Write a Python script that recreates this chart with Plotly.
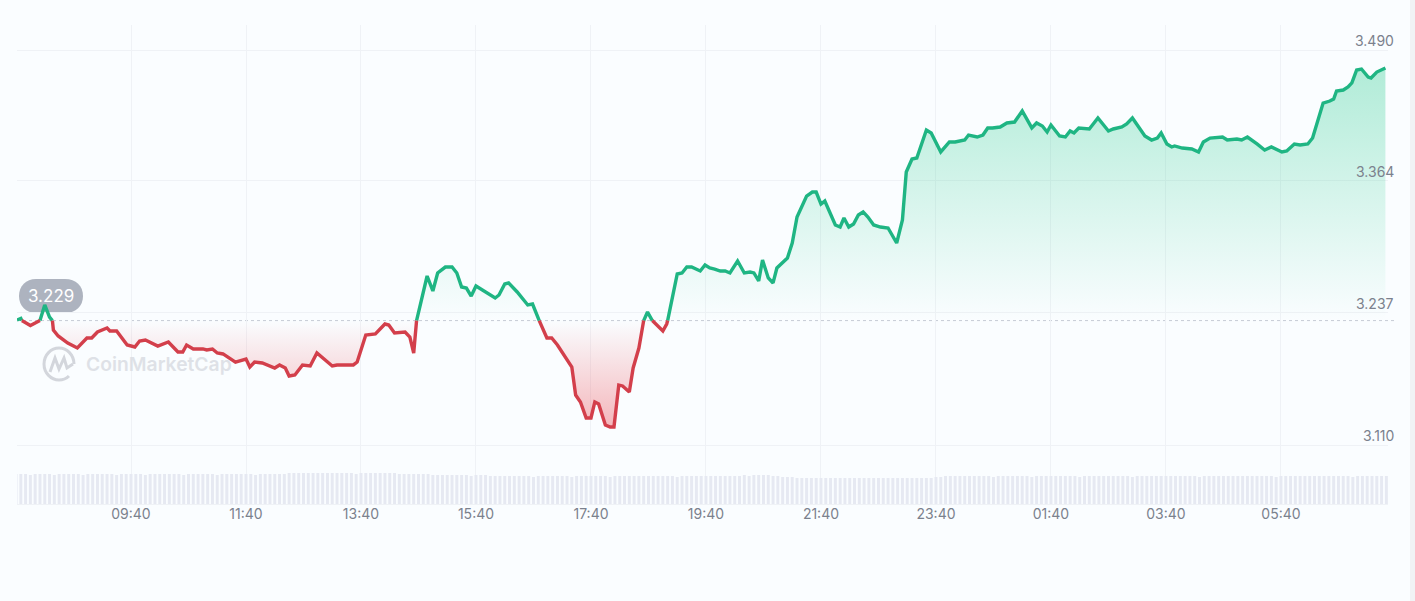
import numpy as np
import plotly.graph_objects as go

W, H = 1415, 601

# minutes elapsed since 07:40, with the price read at each one
minutes = [
    1, 5, 6, 7, 15, 23, 25, 30, 35, 38, 39, 44, 54, 64, 74, 79, 85, 95, 98, 105,
    116, 124, 129, 135, 148, 159, 169, 174, 178, 185, 195, 199, 205, 210, 216, 229, 240, 244, 249, 257,
    270, 275, 281, 285, 291, 299, 307, 314, 319, 330, 335, 352, 356, 365, 375, 385, 389, 395, 406, 411,
    415, 418, 425, 429, 435, 440, 448, 455, 460, 465, 470, 475, 480, 489, 500, 504, 510, 514, 523, 534,
    539, 546, 554, 559, 565, 580, 584, 589, 595, 600, 604, 608, 615, 620, 624, 629, 633, 640, 644, 650,
    655, 659, 664, 675, 679, 680, 690, 695, 700, 705, 714, 719, 724, 729, 735, 740, 745, 753, 760, 766,
    770, 775, 779, 785, 790, 794, 805, 810, 815, 825, 831, 835, 840, 844, 855, 860, 864, 869, 874, 879,
    884, 889, 895, 902, 910, 919, 925, 929, 935, 940, 950, 955, 965, 974, 980, 990, 994, 1003, 1009, 1014,
    1019, 1027, 1034, 1042, 1050, 1060, 1065, 1071, 1076, 1080, 1089, 1095, 1100, 1104, 1109, 1120, 1129, 1140, 1145, 1154,
    1159, 1165, 1178, 1185, 1191, 1195, 1201, 1206, 1209, 1217, 1227, 1234, 1239, 1246, 1259, 1264, 1274, 1279, 1285, 1295,
    1303, 1310, 1321, 1326, 1334, 1340, 1348, 1353, 1359, 1364, 1371, 1375, 1378, 1385, 1390, 1394, 1399, 1404, 1411, 1414,
    1420, 1429,
]
prices = [
    3.2303, 3.2317, 3.2297, 3.2293, 3.2250, 3.2293, 3.2297, 3.2447, 3.2331, 3.2297, 3.2206, 3.2149, 3.2081, 3.2033, 3.2129, 3.2129, 3.2187, 3.2226, 3.2197, 3.2197,
    3.2062, 3.2043, 3.2101, 3.2110, 3.2052, 3.2091, 3.1995, 3.1995, 3.2062, 3.2024, 3.2024, 3.2014, 3.2024, 3.1985, 3.1976, 3.1898, 3.1927, 3.1850, 3.1898, 3.1889,
    3.1841, 3.1870, 3.1841, 3.1764, 3.1774, 3.1870, 3.1860, 3.1985, 3.1947, 3.1860, 3.1870, 3.1870, 3.1898, 3.2158, 3.2168, 3.2264, 3.2254, 3.2178, 3.2187, 3.2139,
    3.1985, 3.2297, 3.2572, 3.2726, 3.2582, 3.2755, 3.2812, 3.2812, 3.2755, 3.2620, 3.2610, 3.2533, 3.2630, 3.2582, 3.2514, 3.2543, 3.2649, 3.2659, 3.2572, 3.2447,
    3.2456, 3.2297, 3.2129, 3.2129, 3.2062, 3.1850, 3.1581, 3.1514, 3.1360, 3.1360, 3.1514, 3.1495, 3.1293, 3.1273, 3.1273, 3.1677, 3.1668, 3.1610, 3.1841, 3.2033,
    3.2297, 3.2380, 3.2297, 3.2197, 3.2264, 3.2297, 3.2745, 3.2755, 3.2812, 3.2812, 3.2774, 3.2832, 3.2803, 3.2793, 3.2774, 3.2774, 3.2755, 3.2870, 3.2755, 3.2764,
    3.2755, 3.2678, 3.2880, 3.2707, 3.2659, 3.2803, 3.2899, 3.3043, 3.3293, 3.3495, 3.3534, 3.3534, 3.3418, 3.3447, 3.3217, 3.3197, 3.3284, 3.3197, 3.3226, 3.3313,
    3.3342, 3.3293, 3.3217, 3.3197, 3.3188, 3.3043, 3.3265, 3.3726, 3.3851, 3.3861, 3.4130, 3.4102, 3.3919, 3.4015, 3.4015, 3.4034, 3.4082, 3.4063, 3.4082, 3.4150,
    3.4150, 3.4159, 3.4198, 3.4207, 3.4313, 3.4150, 3.4198, 3.4169, 3.4111, 3.4178, 3.4073, 3.4063, 3.4121, 3.4102, 3.4150, 3.4140, 3.4246, 3.4121, 3.4140, 3.4159,
    3.4188, 3.4246, 3.4073, 3.4034, 3.4053, 3.4102, 3.3996, 3.3967, 3.3977, 3.3957, 3.3948, 3.3919, 3.4015, 3.4053, 3.4063, 3.4034, 3.4044, 3.4034, 3.4063, 3.3996,
    3.3938, 3.3967, 3.3919, 3.3928, 3.3996, 3.3986, 3.3996, 3.4053, 3.4227, 3.4390, 3.4409, 3.4429, 3.4506, 3.4515, 3.4544, 3.4583, 3.4708, 3.4717, 3.4640, 3.4631,
    3.4688, 3.4727,
]
base_price = 3.2297

# one volume bar every five minutes, in chart units
volumes = [
    30, 30, 30, 29, 30, 30, 30, 30, 29, 30, 30, 30, 30, 30, 29, 30, 30, 30, 30, 30,
    30, 29, 30, 30, 30, 30, 30, 29, 30, 30, 30, 30, 30, 30, 30, 29, 30, 30, 30, 30,
    30, 30, 29, 30, 30, 30, 30, 30, 30, 30, 29, 30, 30, 30, 30, 30, 30, 31, 31, 31,
    31, 31, 31, 31, 31, 31, 31, 31, 31, 31, 31, 30, 31, 31, 31, 31, 31, 31, 31, 31,
    30, 30, 30, 30, 30, 30, 30, 29, 29, 29, 29, 29, 29, 29, 29, 28, 29, 29, 29, 28,
    28, 28, 28, 28, 28, 28, 28, 28, 27, 28, 28, 28, 28, 28, 28, 28, 27, 28, 28, 28,
    28, 28, 28, 28, 27, 28, 28, 28, 28, 28, 28, 28, 28, 28, 28, 28, 28, 28, 27, 28,
    28, 28, 28, 28, 28, 28, 28, 28, 28, 28, 28, 28, 29, 28, 29, 29, 29, 29, 28, 28,
    27, 27, 27, 26, 26, 26, 26, 26, 26, 26, 26, 26, 26, 26, 26, 26, 26, 26, 26, 26,
    26, 26, 26, 26, 26, 26, 26, 26, 26, 26, 26, 26, 27, 27, 28, 28, 28, 28, 28, 28,
    28, 28, 28, 28, 27, 28, 28, 28, 28, 28, 28, 28, 27, 28, 28, 28, 28, 28, 28, 28,
    28, 28, 27, 28, 28, 28, 28, 28, 28, 28, 28, 28, 28, 27, 28, 28, 28, 28, 28, 28,
    28, 28, 28, 28, 28, 28, 28, 27, 28, 28, 28, 28, 28, 28, 28, 28, 28, 28, 28, 28,
    28, 28, 28, 27, 28, 28, 28, 28, 28, 28, 28, 28, 28, 28, 28, 28, 28, 28, 28, 27,
    28, 28, 28, 28, 28, 28, 28,
]
volume_minutes = [5 * i for i in range(len(volumes))]

tick_minutes = [120, 240, 360, 480, 600, 720, 840, 960, 1080, 1200, 1320]
tick_labels = ["09:40", "11:40", "13:40", "15:40", "17:40", "19:40", "21:40", "23:40", "01:40", "03:40", "05:40"]
price_ticks = [3.490, 3.364, 3.237, 3.110]
price_labels = ["3.490", "3.364", "3.237", "3.110"]

GREEN = "#1fb583"
RED = "#d33f4b"
GRID = "#eff2f6"
BG = "#fafdff"
LABEL = "#7b818d"


def px(x, y):
    return f"{x / W:.5f} {1 - y / H:.5f}"


price_arr = np.array(prices)
green_line = [p if p >= base_price else None for p in prices]
red_line = [p if p <= base_price else None for p in prices]

fig = go.Figure()

# volume strip first so the price sits over it
fig.add_trace(go.Bar(x=volume_minutes, y=volumes, yaxis="y2", width=3.1,
                     marker=dict(color="#e6e9f2", line_width=0), hoverinfo="skip"))

fig.add_trace(go.Scatter(x=minutes, y=[base_price] * len(minutes), mode="lines",
                         line=dict(width=0), hoverinfo="skip"))
fig.add_trace(go.Scatter(x=minutes, y=np.maximum(price_arr, base_price), mode="lines",
                         line=dict(width=0), fill="tonexty", hoverinfo="skip",
                         fillgradient=dict(type="vertical", start=base_price, stop=max(prices),
                                           colorscale=[[0, "rgba(22,199,132,0)"], [1, "rgba(22,199,132,0.32)"]])))
fig.add_trace(go.Scatter(x=minutes, y=[base_price] * len(minutes), mode="lines",
                         line=dict(width=0), hoverinfo="skip"))
fig.add_trace(go.Scatter(x=minutes, y=np.minimum(price_arr, base_price), mode="lines",
                         line=dict(width=0), fill="tonexty", hoverinfo="skip",
                         fillgradient=dict(type="vertical", start=base_price, stop=min(prices),
                                           colorscale=[[0, "rgba(234,57,67,0)"], [1, "rgba(234,57,67,0.36)"]])))

fig.add_trace(go.Scatter(x=minutes, y=green_line, mode="lines",
                         line=dict(color=GREEN, width=3.4), hoverinfo="skip"))
fig.add_trace(go.Scatter(x=minutes, y=red_line, mode="lines",
                         line=dict(color=RED, width=3.4), hoverinfo="skip"))

shapes = [
    # right edge strip of the screenshot
    dict(type="rect", xref="paper", yref="paper", x0=1410 / W, x1=1, y0=0, y1=1,
         fillcolor="#f1f3f5", line_width=0, layer="below"),
    # dotted line at the opening price
    dict(type="line", xref="paper", yref="y", x0=17 / W, x1=1394 / W, y0=base_price, y1=base_price,
         line=dict(color="#c6cbd5", width=1, dash="dot"), layer="below"),
    # opening price badge
    dict(type="path", xref="paper", yref="paper", layer="below", fillcolor="#adb3bf", line_width=0,
         path=f"M {px(36, 279)} L {px(65, 279)} C {px(76, 279)} {px(83, 286)} {px(83, 296)} "
              f"C {px(83, 306)} {px(76, 313)} {px(65, 313)} L {px(36, 313)} "
              f"C {px(26, 313)} {px(19, 306)} {px(19, 296)} C {px(19, 286)} {px(26, 279)} {px(36, 279)} Z"),
    # watermark ring and M
    dict(type="path", xref="paper", yref="paper", layer="below", line=dict(color="#d3d6dc", width=3),
         path=f"M {px(74, 364)} C {px(74, 355)} {px(67, 348)} {px(59, 348)} "
              f"C {px(51, 348)} {px(44, 355)} {px(44, 364)} "
              f"C {px(44, 373)} {px(51, 380)} {px(59, 380)} C {px(62, 380)} {px(66, 379)} {px(69, 376)}"),
    dict(type="path", xref="paper", yref="paper", layer="below", line=dict(color="#d3d6dc", width=3),
         path=f"M {px(50, 372)} L {px(55, 358)} L {px(59, 369)} L {px(64, 358)} L {px(67, 368)} L {px(73, 364)}"),
]

annotations = [
    dict(text="3.229", xref="paper", yref="paper", x=51 / W, y=1 - 296 / H, xanchor="center", yanchor="middle",
         showarrow=False, font=dict(family="Inter", size=17, color="white")),
    dict(text="CoinMarketCap", xref="paper", yref="paper", x=84 / W, y=1 - 364 / H, xanchor="left",
         yanchor="middle", showarrow=False, font=dict(family="Inter", size=19.3, color="#dadde3", weight=600),
         opacity=0.85),
]
for val, lab in zip(price_ticks, price_labels):
    annotations.append(dict(text=lab, xref="paper", yref="y", x=1396 / W, y=val, xanchor="right",
                            yanchor="bottom", yshift=-1, showarrow=False,
                            font=dict(family="Inter", size=14, color=LABEL)))

fig.update_layout(
    width=W, height=H,
    margin=dict(l=0, r=0, t=0, b=0),
    paper_bgcolor=BG, plot_bgcolor=BG,
    showlegend=False,
    shapes=shapes,
    annotations=annotations,
    xaxis=dict(domain=[17 / W, 1388 / W], range=[1.04, 1431.7],
               tickvals=tick_minutes, ticktext=tick_labels,
               showgrid=True, gridcolor=GRID, gridwidth=1, zeroline=False,
               showline=True, linecolor=GRID, ticks="", ticklabelstandoff=-3,
               tickfont=dict(family="Inter", size=14, color=LABEL)),
    yaxis=dict(domain=[(H - 504) / H, (H - 25) / H], range=[3.05325, 3.51405],
               tickvals=price_ticks, showticklabels=False,
               showgrid=True, gridcolor=GRID, gridwidth=1, zeroline=False),
    yaxis2=dict(domain=[(H - 504) / H, (H - 473) / H], range=[0, 31], anchor="x",
                showgrid=False, showticklabels=False, zeroline=False),
)

# the page's default body margin would push the chart 8px in
fig.write_html("out.html", config=dict(displayModeBar=False),
               post_script="document.body.style.margin = '0';")
